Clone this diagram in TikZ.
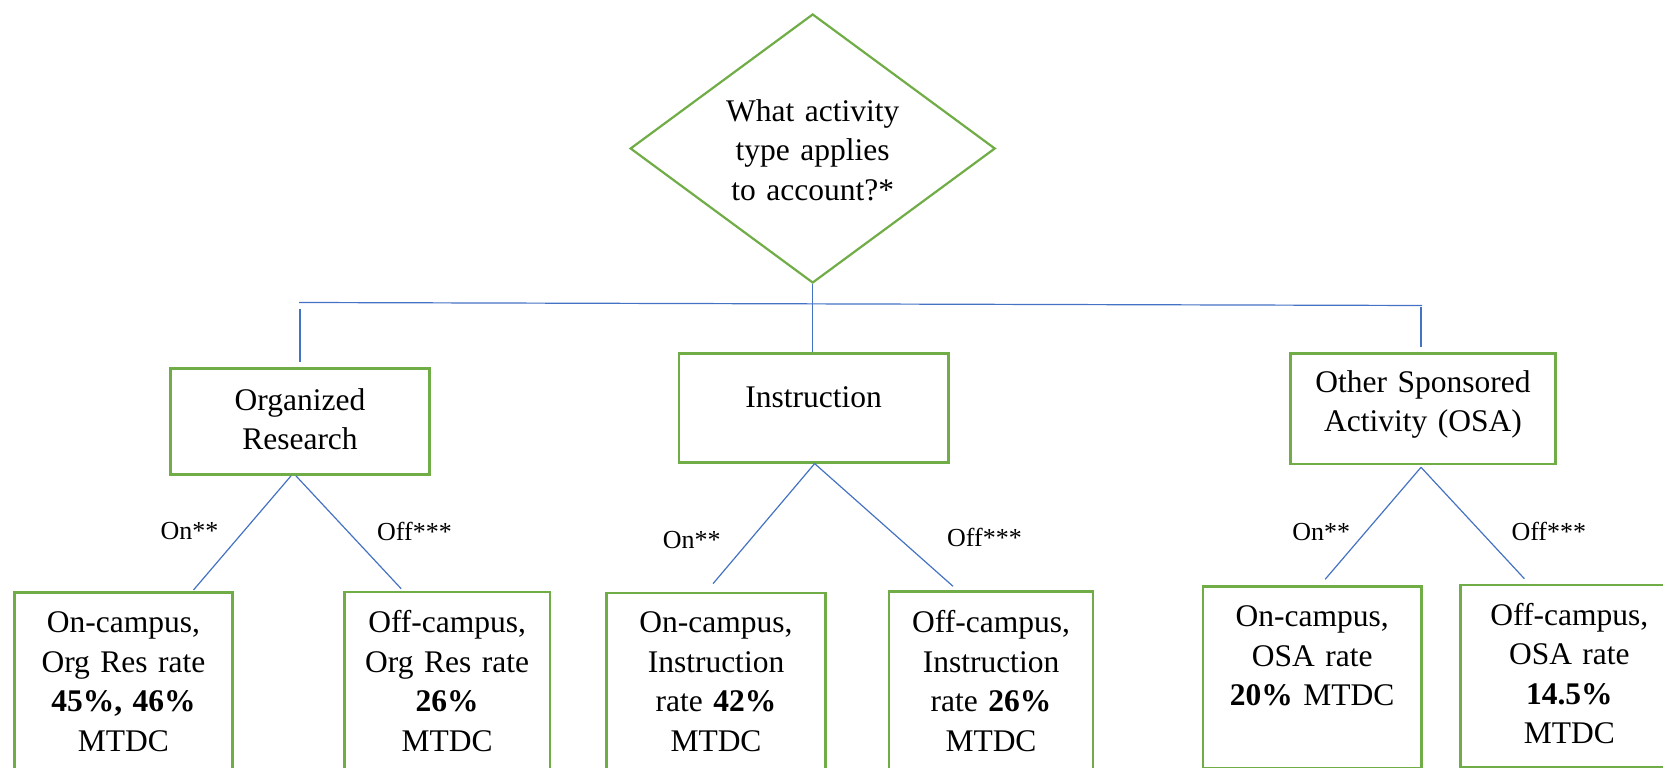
\documentclass[tikz,border=0pt]{standalone}
\usepackage{fontspec}
\setmainfont{Liberation Serif}
\usetikzlibrary{shapes.geometric}
\definecolor{boxgreen}{HTML}{70AD47}
\definecolor{linkblue}{HTML}{4472C4}
\tikzset{
  box/.style={draw=boxgreen, line width=2.6pt, align=center, inner sep=0pt, anchor=north},
  link/.style={draw=linkblue, line width=1.2pt},
  lbl/.style={anchor=base, font=\fontsize{26}{30}\selectfont}
}
\begin{document}
\begin{tikzpicture}[x=1pt,y=1pt,font=\fontsize{31.5}{39.5}\selectfont]
\useasboundingbox (0,0) rectangle (1663,768);
\clip (0,0) rectangle (1663,768);
\node [diamond, draw=boxgreen, line width=2.2pt, aspect=1.36, minimum width=365pt, minimum height=269pt, inner sep=0pt, align=center, text width=180pt, text height=26pt, text depth=80pt] (q) at (812.7,619.5) {What activity\\type applies\\to account?*};
\node [box, text width=258.6pt, text height=41.8pt, text depth=64.5pt] (res) at (300,401) {Organized\\Research};
\node [box, text width=269.3pt, text height=53.7pt, text depth=55pt] (instr) at (813.65,415.7) {Instruction};
\node [box, text width=264.6pt, text height=39pt, text depth=71.7pt] (osa) at (1423,416) {Other Sponsored\\Activity (OSA)};
\node [box, text width=218.4pt, text height=40.7pt, text depth=200pt] (resOn) at (123.5,177) {On-campus,\\Org Res rate\\\textbf{45\%, 46\%}\\MTDC};
\node [box, text width=205.7pt, text height=41pt, text depth=200pt] (resOff) at (447.15,177.3) {Off-campus,\\Org Res rate\\\textbf{26\%}\\MTDC};
\node [box, text width=218.6pt, text height=40pt, text depth=200pt] (instrOn) at (716,176.3) {On-campus,\\Instruction\\rate \textbf{42\%}\\MTDC};
\node [box, text width=204pt, text height=41.4pt, text depth=200pt] (instrOff) at (991,177.7) {Off-campus,\\Instruction\\rate \textbf{26\%}\\MTDC};
\node [box, text width=218.3pt, text height=40pt, text depth=141.4pt] (osaOn) at (1312.15,182.7) {On-campus,\\OSA rate\\\textbf{20\%} MTDC};
\node [box, text width=217.3pt, text height=40.4pt, text depth=141.7pt] (osaOff) at (1569.35,184.3) {Off-campus,\\OSA rate\\\textbf{14.5\%}\\MTDC};
\coordinate (busL) at (299,465.5);
\coordinate (busR) at (1422,462.5);
\draw [link] (q.south) -- (q.south |- instr.north);
\draw [link] (busL) -- (busR);
\draw [link] ([yshift=5pt]res.north) -- ++(0,53);
\draw [link] ([shift={(-2pt,5pt)}]osa.north) -- ++(0,40);
\draw [link] ([xshift=-9pt]res.south) -- ([xshift=70pt,yshift=1pt]resOn.north);
\draw [link] ([xshift=-4pt]res.south) -- ([xshift=-46pt,yshift=2pt]resOff.north);
\draw [link] ([xshift=1pt]instr.south) -- ([xshift=-3pt,yshift=8pt]instrOn.north);
\draw [link] ([xshift=1pt]instr.south) -- ([xshift=-38pt,yshift=4pt]instrOff.north);
\draw [link] ([shift={(-2pt,-2pt)}]osa.south) -- ([xshift=13pt,yshift=6pt]osaOn.north);
\draw [link] ([shift={(-2pt,-2pt)}]osa.south) -- ([xshift=-45pt,yshift=5pt]osaOff.north);
\node [lbl] (resOnL) at (189.5,228.7) {On**};
\node [lbl] (resOffL) at (414.5,227) {Off***};
\node [lbl] (instrOnL) at (691.7,219) {On**};
\node [lbl] (instrOffL) at (984.5,221.3) {Off***};
\node [lbl] (osaOnL) at (1321.3,227) {On**};
\node [lbl] (osaOffL) at (1548.8,227) {Off***};
\end{tikzpicture}
\end{document}
